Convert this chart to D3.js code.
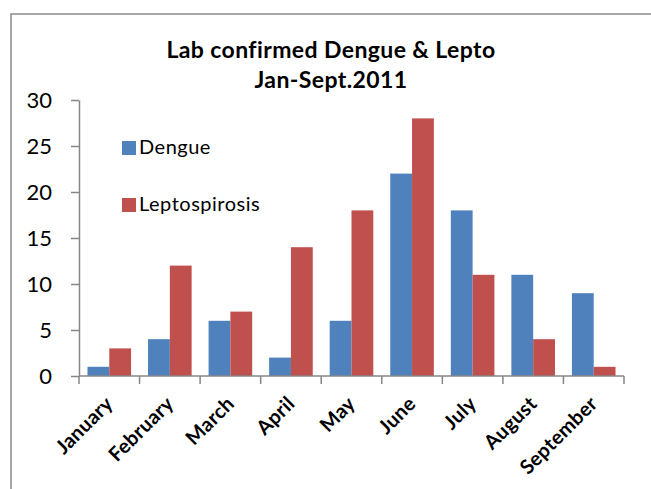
<!DOCTYPE html>
<html>
<head>
<meta charset="utf-8">
<script src="https://cdn.jsdelivr.net/npm/d3@7"></script>
<style>
  body { margin: 0; background: white; }
  text { font-family: Lato, "Open Sans", sans-serif; }
</style>
</head>
<body>
<div id="vis"></div>
<script>
// chart data
let months = ['January', 'February', 'March', 'April', 'May', 'June', 'July', 'August', 'September'];
let dengue = [1, 4, 6, 2, 6, 22, 18, 11, 9];
let lepto = [3, 12, 7, 14, 18, 28, 11, 4, 1];
let seriesNames = ['Dengue', 'Leptospirosis'];
let seriesColors = ['#4f81bd', '#c0504d'];
let yTicks = [0, 5, 10, 15, 20, 25, 30];
let titleLines = ['Lab confirmed Dengue & Lepto', 'Jan-Sept.2011'];

let W = 651, H = 489;
let plot = { left: 79, right: 624, top: 100, bottom: 376 };

let svg = d3.select('#vis')
  .append('svg')
  .attr('width', W)
  .attr('height', H);

// outer chart border (runs off right and bottom of the picture)
svg.append('rect')
  .attr('x', 11)
  .attr('y', 14)
  .attr('width', W + 20)
  .attr('height', H + 20)
  .attr('fill', 'white')
  .attr('stroke', '#8a8a8a')
  .attr('stroke-width', 1.5);

// title
svg.append('g').selectAll('text')
  .data(titleLines)
  .join('text')
  .attr('x', 331)
  .attr('y', (d, i) => 58 + i * 30)
  .attr('text-anchor', 'middle')
  .style('font-size', '23px')
  .style('font-weight', 'bold')
  .style('letter-spacing', '0.4px')
  .attr('fill', '#000')
  .text(d => d);

let x = d3.scaleBand()
  .domain(months)
  .range([plot.left, plot.right])
  .paddingInner(0.28)
  .paddingOuter(0.14);

let xSub = d3.scaleBand()
  .domain(seriesNames)
  .range([0, x.bandwidth()]);

let y = d3.scaleLinear()
  .domain([0, 30])
  .range([plot.bottom, plot.top]);

// bars
let rows = months.map((m, i) => ({ month: m, values: [dengue[i], lepto[i]] }));

svg.append('g').selectAll('g')
  .data(rows)
  .join('g')
  .attr('transform', d => 'translate(' + x(d.month) + ',0)')
  .selectAll('rect')
  .data(d => d.values.map((v, k) => ({ name: seriesNames[k], value: v, color: seriesColors[k] })))
  .join('rect')
  .attr('x', d => xSub(d.name))
  .attr('y', d => y(d.value))
  .attr('width', xSub.bandwidth())
  .attr('height', d => y(0) - y(d.value))
  .attr('fill', d => d.color);

// y axis
let yAxis = svg.append('g')
  .attr('transform', 'translate(' + plot.left + ',0)')
  .call(d3.axisLeft(y).tickValues(yTicks).tickSize(8).tickSizeOuter(0).tickPadding(19));
yAxis.select('.domain').attr('stroke', '#868686').attr('stroke-width', 1.5);
yAxis.selectAll('.tick line').attr('stroke', '#868686').attr('stroke-width', 1.5);
yAxis.selectAll('.tick text')
  .style('font-family', 'Lato, sans-serif')
  .style('font-size', '22px')
  .attr('fill', '#000');

// x axis: ticks sit between the categories
let boundaries = d3.range(months.length + 1).map(i => plot.left + i * (plot.right - plot.left) / months.length);
let xAxis = svg.append('g');
xAxis.append('line')
  .attr('x1', plot.left)
  .attr('x2', plot.right)
  .attr('y1', plot.bottom)
  .attr('y2', plot.bottom)
  .attr('stroke', '#868686')
  .attr('stroke-width', 1.5);
xAxis.selectAll('.tk')
  .data(boundaries)
  .join('line')
  .attr('class', 'tk')
  .attr('x1', d => d)
  .attr('x2', d => d)
  .attr('y1', plot.bottom)
  .attr('y2', plot.bottom + 8)
  .attr('stroke', '#868686')
  .attr('stroke-width', 1.5);
xAxis.selectAll('.lbl')
  .data(months)
  .join('text')
  .attr('class', 'lbl')
  .attr('text-anchor', 'end')
  .attr('transform', d => 'translate(' + (x(d) + x.bandwidth() / 2 + 5) + ',' + 405 + ') rotate(-45)')
  .style('font-size', '20px')
  .style('font-weight', 'bold')
  .style('letter-spacing', '0.3px')
  .attr('fill', '#000')
  .text(d => d);

// legend inside the plot
let legend = svg.append('g').selectAll('g')
  .data(seriesNames)
  .join('g')
  .attr('transform', (d, i) => 'translate(122,' + (141 + i * 57) + ')');
legend.append('rect')
  .attr('width', 14)
  .attr('height', 14)
  .attr('fill', (d, i) => seriesColors[i]);
legend.append('text')
  .attr('x', 17)
  .attr('y', 13)
  .style('font-size', '20px')
  .style('letter-spacing', '0.5px')
  .attr('fill', '#000')
  .text(d => d);
</script>
</body>
</html>
